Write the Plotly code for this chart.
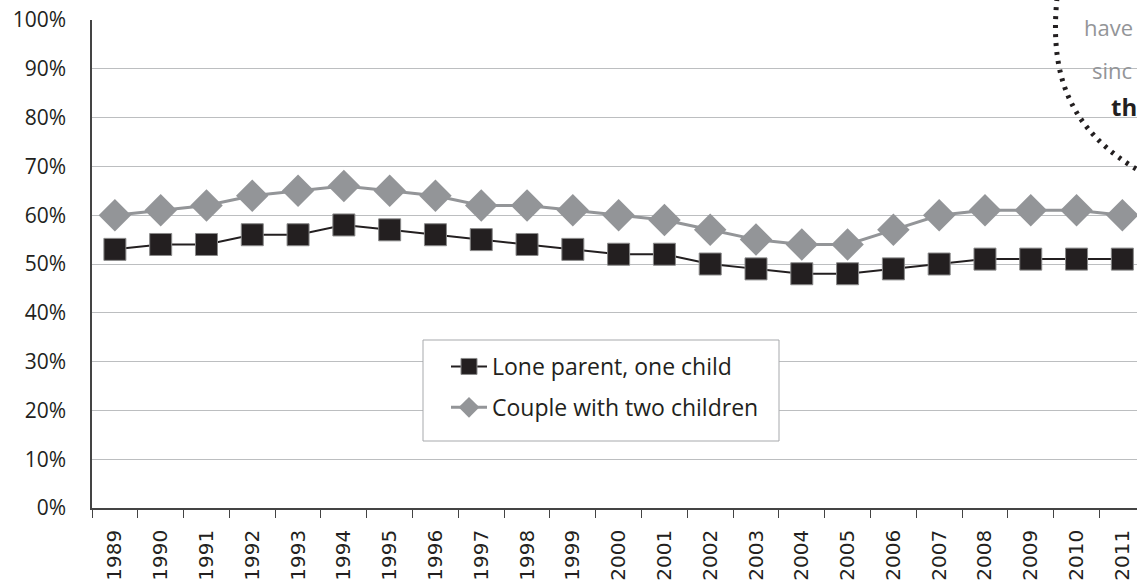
import plotly.graph_objects as go

years = [str(y) for y in range(1989, 2012)]
lone_parent = [53, 54, 54, 56, 56, 58, 57, 56, 55, 54, 53, 52, 52, 50, 49, 48, 48, 49, 50, 51, 51, 51, 51]
couple_two = [60, 61, 62, 64, 65, 66, 65, 64, 62, 62, 61, 60, 59, 57, 55, 54, 54, 57, 60, 61, 61, 61, 60]
y_ticks = list(range(0, 101, 10))
y_labels = [f"{v}%" for v in y_ticks]

W, H = 1137, 585
L, R, T, B = 92, 0, 20, 77
pw, ph = W - L - R, H - T - B

def px(x):
    return (x - L) / pw

def py(y):
    return (H - B - y) / ph

FONT = "'Open Sans', Lato, sans-serif"
XFONT = "'DejaVu Sans', sans-serif"
DARK = "#231f20"
GRAY = "#939598"

fig = go.Figure()
fig.add_trace(go.Scatter(
    x=years, y=lone_parent, name="Lone parent, one child", mode="lines+markers",
    line=dict(color=DARK, width=2),
    marker=dict(symbol="square", size=22, color=DARK, line=dict(color="#8a8a8a", width=1)),
    legendgroup="a",
))
fig.add_trace(go.Scatter(
    x=years, y=couple_two, name="Couple with two children", mode="lines+markers",
    line=dict(color=GRAY, width=3),
    marker=dict(symbol="diamond", size=25, color=GRAY, line=dict(width=0)),
    legendgroup="b",
))

shapes = [
    dict(type="rect", xref="paper", yref="paper", x0=px(423), x1=px(779), y0=py(441), y1=py(340),
         line=dict(color="#a7a9ac", width=1), fillcolor="white", layer="above"),
    dict(type="path", xref="paper", yref="paper",
         path=f"M {px(1057)},{py(-2)} C {px(1050)},{py(70)} {px(1065)},{py(130)} {px(1145)},{py(174)}",
         line=dict(color=DARK, width=5, dash="3px,6px")),
]

annotations = [
    dict(text="have", x=px(1082), y=py(27), xref="paper", yref="paper", xanchor="left", yanchor="middle",
         showarrow=False, font=dict(family=FONT, size=22, color=GRAY)),
    dict(text="sinc", x=px(1090), y=py(70), xref="paper", yref="paper", xanchor="left", yanchor="middle",
         showarrow=False, font=dict(family=FONT, size=22, color=GRAY)),
    dict(text="<b>th</b>", x=px(1109), y=py(106), xref="paper", yref="paper", xanchor="left", yanchor="middle",
         showarrow=False, font=dict(family=FONT, size=24, color=DARK)),
]

fig.update_layout(
    width=W, height=H,
    margin=dict(l=L, r=R, t=T, b=B, pad=0),
    paper_bgcolor="white", plot_bgcolor="white",
    font=dict(family=FONT, color=DARK),
    showlegend=True,
    legend=dict(x=px(446), y=py(345), xanchor="left", yanchor="top",
                bgcolor="rgba(0,0,0,0)", borderwidth=0,
                font=dict(family=FONT, size=23, color=DARK),
                traceorder="grouped", tracegroupgap=8, itemwidth=36),
    shapes=shapes,
    annotations=annotations,
    xaxis=dict(
        type="category", range=[-0.5, 22.32],
        showgrid=False, showline=True, linecolor="#444", linewidth=1.5,
        ticks="outside", tickson="boundaries", ticklen=8, tickcolor="#444",
        tickangle=-90, tickfont=dict(family=XFONT, size=20, color=DARK),
        ticklabelstandoff=12,
    ),
    yaxis=dict(
        range=[0, 100], tickvals=y_ticks, ticktext=y_labels,
        showgrid=True, gridcolor="#bcbec0", gridwidth=1,
        showline=True, linecolor="#444", linewidth=1.5, mirror=False,
        ticks="", tickfont=dict(family=FONT, size=21, color=DARK),
        ticklabelstandoff=20, zeroline=False,
    ),
)

fig.write_html("out.html", config={"displayModeBar": False},
               post_script="document.body.style.margin='0px';document.body.style.overflow='hidden';")
